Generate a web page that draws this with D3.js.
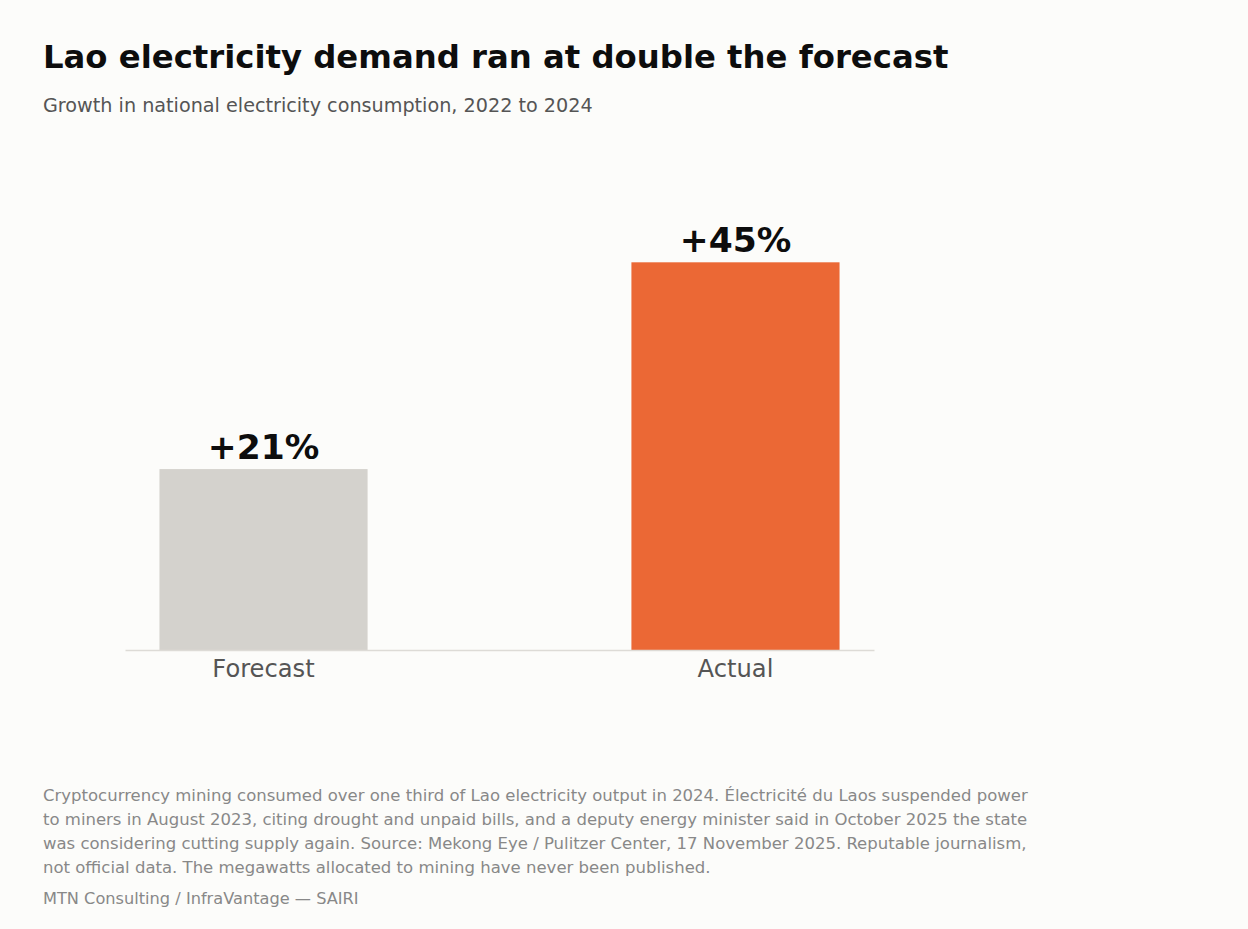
<!DOCTYPE html>
<html><head><meta charset="utf-8">
<script src="https://cdn.jsdelivr.net/npm/d3@7"></script>
<style>
html,body{margin:0;padding:0;background:#fcfcfa;}
svg{display:block;font-family:"DejaVu Sans",sans-serif;}
</style></head><body>
<svg id="c" width="1248" height="929"></svg>
<script>
const categories = ["Forecast", "Actual"];
const values = [21, 45];
const valueLabels = ["+21%", "+45%"];
const colors = ["#d4d2cd", "#eb6835"];
const title = "Lao electricity demand ran at double the forecast";
const subtitle = "Growth in national electricity consumption, 2022 to 2024";
const notes = [
  "Cryptocurrency mining consumed over one third of Lao electricity output in 2024. Électricité du Laos suspended power",
  "to miners in August 2023, citing drought and unpaid bills, and a deputy energy minister said in October 2025 the state",
  "was considering cutting supply again. Source: Mekong Eye / Pulitzer Center, 17 November 2025. Reputable journalism,",
  "not official data. The megawatts allocated to mining have never been published."
];
const credit = "MTN Consulting / InfraVantage — SAIRI";

const svg = d3.select("#c");
svg.append("rect").attr("width",1248).attr("height",929).attr("fill","#fcfcfa");

svg.append("text").attr("x",43).attr("y",68).attr("font-size",32.3).attr("font-weight","bold")
  .attr("fill","#0d0d0d").text(title);
svg.append("text").attr("x",43).attr("y",112).attr("font-size",19.2).attr("fill","#555").text(subtitle);

const x = d3.scaleBand().domain(categories).range([125,874]).paddingInner(0.559).paddingOuter(0.073);
const y = d3.scaleLinear().domain([0,52]).range([650,202]);

const g = svg.append("g");
g.selectAll("rect.bar").data(categories).join("rect").attr("class","bar")
  .attr("x",d=>x(d)).attr("width",x.bandwidth())
  .attr("y",(d,i)=>y(values[i])).attr("height",(d,i)=>y(0)-y(values[i]))
  .attr("fill",(d,i)=>colors[i]);

g.selectAll("text.val").data(categories).join("text").attr("class","val")
  .attr("x",d=>x(d)+x.bandwidth()/2).attr("y",(d,i)=>y(values[i])-10)
  .attr("text-anchor","middle").attr("font-size",34.5).attr("font-weight","bold").attr("fill","#0d0d0d")
  .text((d,i)=>valueLabels[i]);

const ax = svg.append("g").attr("transform","translate(0,650)")
  .call(d3.axisBottom(x).tickSize(0).tickPadding(10));
ax.select(".domain").attr("stroke","#dddbd6").attr("stroke-width",1.5);
ax.selectAll("text").attr("font-size",24.2).attr("fill","#555").attr("font-family","DejaVu Sans, sans-serif");

const nt = svg.append("g");
notes.forEach((t,i)=>{
  nt.append("text").attr("x",43).attr("y",801+i*24).attr("font-size",16.5).attr("fill","#888").text(t);
});
svg.append("text").attr("x",43).attr("y",904).attr("font-size",16.2).attr("fill","#888").text(credit);
</script>
</body></html>
